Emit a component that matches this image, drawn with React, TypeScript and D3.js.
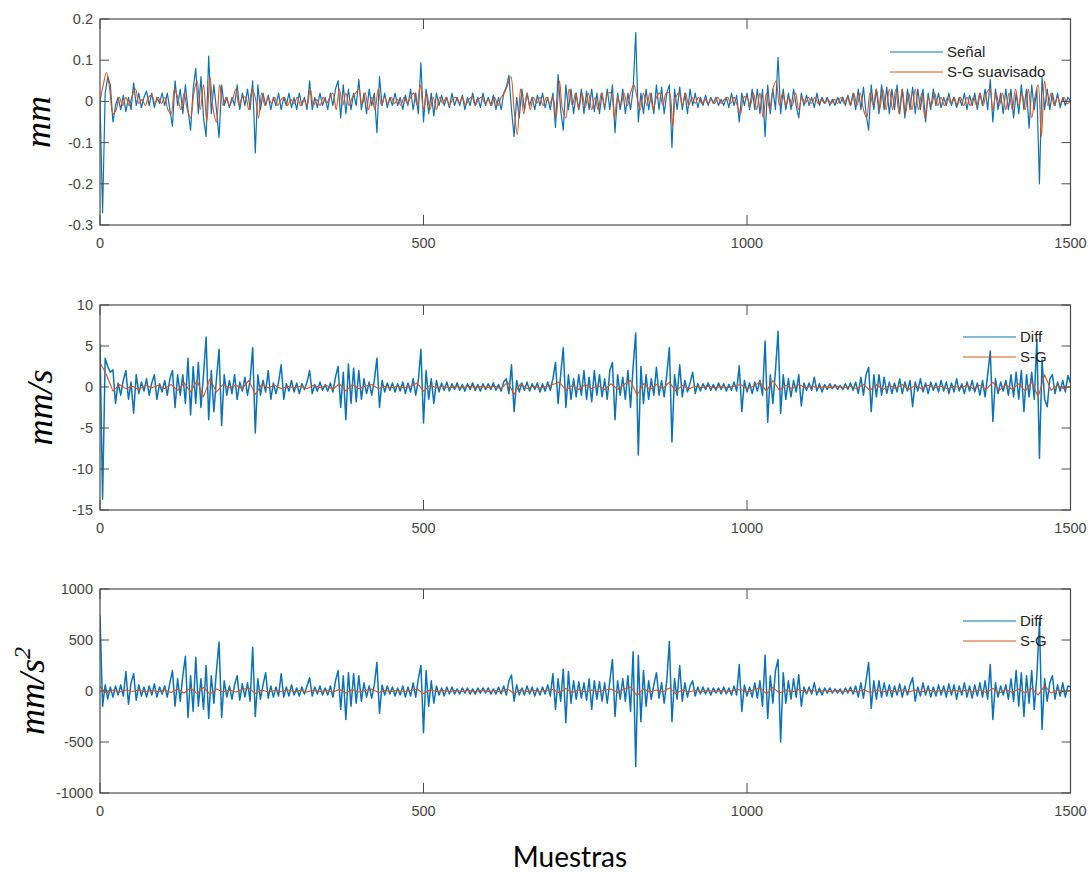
import React from 'react';
import * as d3 from 'd3';

// Sample axis
const sampleDomain = [0, 1500];
const xTicks = [0, 500, 1000, 1500];

// Panel 1: displacement (mm), raw signal every 4 samples, smoothed every 5 samples
const signalStep = 4;
const signalMm = [
  0, -.27, .02, .06, .04, -.05, -.01, .01, -.02, .015, -.025, .01, -.02, .045, -.01, .02, -.015, .01, .025, -.01, .02, -.015, .01, -.005, .02,
  -.01, .02, -.02, -.06, .05, -.01, .03, -.03, .04, -.02, -.07, .03, .08, -.03, .06, -.04, -.085, .11, -.03, .04, -.02, -.088, .04, -.01, .01,
  -.015, .01, -.01, .04, -.02, .02, -.01, .03, -.02, .05, -.125, .04, -.02, .02, -.01, .015, -.02, .01, -.01, .02, -.02, .01, -.01, .02, -.015,
  .01, -.02, .02, -.01, .01, -.02, .05, -.02, .01, -.015, .02, -.01, .01, -.02, .02, -.01, .03, .05, -.04, .04, -.03, .03, -.02, .02, -.01,
  .053, -.02, .02, -.03, .03, -.01, .02, -.076, .06, -.01, .02, -.015, .01, -.01, .02, -.01, .01, -.02, .015, -.01, .03, -.02, .02, -.03, .094,
  -.05, .03, -.03, .02, -.035, .02, -.01, .015, -.01, .01, -.015, .02, -.01, .01, -.01, .015, -.02, .01, -.01, .02, -.01, .01, -.015, .02, -.01,
  .01, -.01, .015, -.02, .01, -.02, .02, .035, .063, -.02, -.085, .01, -.04, .03, -.02, .02, -.01, .01, -.02, .015, -.01, .02, -.015, .01, -.02,
  .02, -.063, .065, -.02, -.07, .04, -.02, .03, -.03, .02, -.02, .03, -.03, .025, -.02, .03, -.025, .02, -.03, .02, -.02, .03, -.02, .04, -.076,
  .02, -.02, .03, -.03, .02, -.02, .03, .167, -.05, .02, -.03, .03, -.02, .02, -.03, .04, -.02, .035, -.03, .02, .04, -.112, .03, -.02, .035,
  -.02, .02, -.03, .03, -.01, .02, -.015, .01, -.01, .015, -.01, .01, -.005, .01, -.01, .005, -.01, .01, -.015, .02, -.01, .015, -.05, .02, -.01,
  .02, -.02, .03, -.02, .03, -.03, .03, -.085, .04, -.03, .03, -.02, .107, -.03, .03, -.02, .02, -.02, .03, -.01, -.04, .02, -.01, .015, -.01,
  .01, -.015, .02, -.01, .01, -.005, .01, -.01, .005, -.01, .01, -.005, .01, -.01, .015, -.01, .02, -.02, .03, -.02, .035, -.03, -.07, .04, -.02,
  .03, -.03, .04, -.02, .035, -.03, .03, -.02, .04, -.03, .03, -.04, .03, -.02, .035, -.03, .03, -.02, .03, -.05, .02, -.02, .03, -.01, .02,
  -.015, .01, -.01, .02, -.01, .01, -.015, .01, -.01, .02, -.02, .015, -.01, .02, -.02, .02, -.01, .03, -.02, .053, -.05, .03, -.02, .02, -.03,
  .03, -.02, .03, -.04, .02, -.03, .04, -.02, .03, -.065, .04, -.02, .03, -.2, .058, -.02, .03, -.02, .02, -.01, .02, -.015, .01, -.01, .01,
  0,
];
const smoothStep = 5;
const smoothMm = [
  0, .04, .07, .03, -.03, -.02, .01, -.01, .01, -.01, .015, .03, -.005, .005, -.01, .01, .015, -.005, .01, -.005,
  .01, -.02, -.03, .03, .01, -.02, .02, -.02, -.04, .02, .05, -.02, .04, -.05, .06, -.02, -.05, .04, -.01, .01,
  -.01, .005, .03, -.01, .01, .01, -.02, .03, .01, -.04, .02, -.01, .01, -.005, .01, -.01, .005, .01, -.01, .005,
  -.005, .01, -.01, .005, -.01, .03, -.01, .005, -.01, .01, -.005, .01, .02, -.02, .03, -.01, .02, -.01, .01, .02,
  .03, -.01, .02, -.02, .01, -.02, .03, -.01, .01, -.005, .01, -.005, .005, -.01, .01, -.005, .01, .02, -.01, .04,
  -.02, .02, -.02, .01, -.02, .01, -.005, .01, -.01, .005, .01, -.005, .01, -.01, .005, .01, -.01, .005, .01, -.005,
  .005, -.01, .01, -.01, .01, .02, .04, .06, -.02, -.08, .03, -.03, .02, -.02, .01, -.005, .01, -.01, .01, -.005,
  .01, -.04, .05, -.02, -.04, .03, -.01, .02, -.02, .02, -.015, .02, -.02, .01, -.02, .02, -.01, .02, .02, -.04,
  .01, -.01, .02, -.01, .02, .04, .01, -.02, .02, -.01, .02, -.02, .01, .02, -.01, .02, .02, -.06, .01, .02,
  -.01, .02, -.01, .01, -.005, .01, -.005, .005, -.005, .005, -.005, .01, -.005, .005, .01, -.005, .01, -.01, -.03, .01,
  .01, -.01, .02, -.02, .02, -.04, .02, -.02, .03, .05, -.01, .02, -.01, .01, -.01, .02, -.02, .01, -.005, .01,
  -.005, .01, -.005, .005, -.005, .005, -.005, .005, -.005, .01, -.005, .01, -.01, .02, -.01, .02, -.02, -.04, .02, -.01,
  .03, -.02, .03, -.02, .03, -.02, .03, -.03, .03, -.03, .02, -.02, .03, -.02, .02, -.04, .01, -.01, .02, -.01,
  .01, -.01, .01, -.005, .01, -.01, .01, -.01, .01, -.01, .01, -.01, .02, -.01, .02, .03, -.02, .02, -.01, .02,
  -.02, .02, -.02, .03, -.01, .02, -.02, .03, -.04, .01, .04, -.085, .05, -.01, .02, -.01, .01, -.005, .01, -.005,
  0,
];

// Panel 2: velocity (mm/s), finite difference every 4 samples, S-G derivative every 10 samples
const velocityDiff = [
  5.2, -13.7, 3.5, 2.5, 1.8, 2.1, -2, .5, -1, .8, 2, -1.5, .6, -3.2, 1.5, -.8, .6, -.5, 1, -1, .5, 1.5, -1.5, .4, -.6,
  .8, -1, 1, 2, -2.5, 1.5, -1, 1.5, -2, 3.5, -3.4, 2.5, -2, 3, -2.5, 1.5, 6.1, -4, 2, -3, 1, 4.6, -4.7, 1.5, -1,
  .8, -.8, 1.5, -1.5, .6, -.5, 1.2, -1, .8, 4.8, -5.6, 1.5, -1, .8, -.6, 2, -1.5, .5, -.8, .6, 2.7, -1.5, .4, -.5, .8,
  -.6, .5, -.8, .4, -.3, .6, 2, -.8, .3, -.5, .6, -.4, .3, -.5, .5, -.6, 1.2, 2.5, -2.5, 1.8, -4, 2.8, -2, 2.3, -1.8,
  2, -1.5, 1, -.8, .6, -1, .8, 3.5, -2.5, .8, -.6, .5, -.4, .5, -.6, .4, -.5, .6, -.8, .5, -.6, 1, -1, .8, 4.6,
  -4.4, 2, -1.5, 1, -2, .8, -.6, .5, -.4, .6, -.5, .4, -.3, .5, -.4, .3, -.5, .4, -.3, .5, -.4, .3, -.5, .4, -.3,
  .4, -.3, .5, -.4, .3, -.5, .6, 1, -.8, 2.7, -3, .8, -.6, .5, -.4, .6, -.5, .4, -.3, .5, -.6, .4, -.5, .6, -.4,
  1, 3, -2, 1.5, 4.8, -2.5, 1.5, -1.5, 1, -1.2, 1.5, -1, 2, -1.5, 1.2, -1.8, 2, -1, 1.5, -1.2, 1, -1.5, 2, 3, -4,
  1.5, -1, 1.2, -1.5, 2, -2.5, 2.5, 6.6, -8.3, 2.5, -2, 1.5, -1.5, 1, -1, 2.4, -1, .8, -1.2, 1.5, 4.8, -6.7, 1.5, -1, 2.7,
  -1.2, .8, -.6, .5, 1.8, -.8, .4, -.5, .4, -.3, .5, -.4, .3, -.4, .5, -.3, .4, -.5, .3, -.4, .6, -.5, 2.6, -3, .8,
  -.6, .5, -.8, .6, -.5, .8, -1, 5.6, -4.3, 1.5, -2, 2, 6.8, -3.2, 1.5, -1.5, 1, -1.2, .8, -.6, 1.5, -2.3, .5, -.4, .5,
  -.4, 1.2, -.5, .4, -.6, .3, -.3, .4, -.2, .3, -.3, .2, -.3, .4, -.3, .5, -.4, .6, -.8, 1.2, -1, 1.5, 2.4, -3, 1.5,
  -1.2, 1.5, -1, 1.2, -.8, .6, -.8, .5, -.6, 1, -.8, .6, -.5, .8, -2.4, .6, -.5, 1, -.6, .5, -.8, .6, -.4, .5, -.6,
  .8, -.5, .6, -.8, .5, -.6, 1, -.5, .4, -.8, .6, -.5, .8, -.6, .5, -1, .8, -1.2, 1.5, 4.4, -4.2, 1, -.8, .6, -.5,
  .8, -1, 1.5, -1.2, 1.8, -1.5, 2, -3, 1.5, -1.2, 1.8, -1.5, 5.8, -8.7, 3.3, -1.5, -2.4, 1, 1.5, -.8, .6, -.5, .8, -.6, 1.4,
  .5,
];
const sgStep = 10;
const velocitySG = [
  3, 1.5, -.5, .3, -.2, .1, -.3, .2, -.1, .2,
  -.2, .3, -.4, .5, -.6, .8, -1.2, 1, -.6, .3,
  -.1, .2, -.2, .8, -.9, .3, -.1, .2, -.2, .1,
  -.1, .1, -.2, .2, -.1, .2, -.3, .4, -.5, .3,
  -.2, .1, .3, -.2, .1, -.1, .1, -.1, .1, .5,
  -.5, .2, -.1, .1, -.1, .05, -.1, .1, -.05, .05,
  -.05, .1, -.2, .6, -.9, .4, -.2, .1, -.1, .05,
  .3, .6, -.4, .2, -.3, .3, -.2, .2, -.3, .4,
  -.3, .3, .8, -1, .4, -.3, .3, -.2, .6, -.5,
  .2, -.2, .1, -.1, .1, -.1, .05, -.1, .1, .3,
  -.2, .1, .6, -.5, .8, -.4, .2, -.2, .3, -.1,
  .1, -.1, .05, -.05, .1, -.1, .1, -.2, .3, -.4,
  .3, -.3, .2, -.2, .3, -.3, .2, -.2, .2, -.1,
  .1, -.2, .1, -.1, .2, -.2, .2, -.3, .6, -.4,
  .3, -.3, .4, -.5, .6, -1.2, 1.5, -.4, .2, -.2,
  .1,
];

// Panel 3: acceleration (mm/s^2)
const accelDiff = [
  740, -150, 60, -80, 40, -60, 50, -40, 60, -50, 190, -130, 80, 170, -90, 60, -50, 40, -60, 50, -40, 70, -60, 40, -30,
  50, -60, 80, 200, -150, 120, -100, 150, 340, -260, 150, -200, 330, -150, 120, -180, 250, -270, 150, -120, 200, 480, -260, 100, -60,
  50, -80, 60, 150, -90, 70, -60, 80, -100, 430, -250, 120, -80, 60, 180, -70, 50, -60, 40, -50, 170, -60, 40, -50, 60,
  -40, 30, -50, 40, -30, 50, 130, -50, 40, -30, 50, -40, 30, -40, 50, -60, 100, 200, -180, 150, -280, 180, -150, 170, -120,
  150, -100, 80, -60, 50, -70, 60, 280, -220, 60, -40, 50, -30, 40, -50, 30, -40, 50, -60, 40, -50, 80, -60, 120, 250,
  -410, 200, -150, 100, -120, 50, -40, 30, -50, 40, -30, 40, -30, 20, -30, 30, -20, 30, -30, 20, -30, 30, -20, 30, -20,
  30, -30, 20, -30, 40, -30, 50, -40, 100, 157, -100, 60, -40, 30, -40, 50, -30, 40, -50, 30, -40, 40, -30, 60, -50,
  170, -180, 120, -100, 212, -310, 190, -120, 100, -80, 90, -70, 80, -90, 120, -180, 100, -80, 90, -100, 80, -120, 100, 310, -250,
  100, -80, 120, -100, 150, -200, 385, -740, 350, -300, 200, -150, 100, -80, 60, 180, -70, 80, -120, 100, 485, -300, 120, -80, 250,
  -100, 80, -60, 50, 100, -50, 40, -30, 40, -30, 30, -40, 30, -20, 30, -30, 40, -30, 30, -40, 50, -40, 260, -200, 60,
  -50, 40, -60, 80, -70, 100, -150, 350, -270, 150, -120, 200, 310, -500, 180, -120, 100, -80, 120, -60, 160, -150, 40, -30, 40,
  -30, 80, -40, 30, -40, 30, -20, 30, -20, 20, -20, 20, -30, 30, -20, 40, -30, 50, -60, 80, -70, 100, 280, -170, 100,
  -80, 100, -60, 80, -50, 60, -60, 50, -40, 70, -60, 50, -40, 60, 130, -100, 40, -50, 80, -40, 50, -60, 40, -50, 60,
  -40, 50, -60, 70, -40, 60, -80, 50, -40, 80, -60, 50, -70, 60, -50, 80, -60, 100, -80, 260, -280, 80, -60, 50, -40,
  60, -80, 120, -100, 200, -150, 180, -250, 150, -120, 200, -180, 150, 680, -378, 120, -100, 80, 150, -80, 60, -50, 80, -60, 50,
  40,
];
const accelSG = [
  40, -20, 10, -10, 10, -5, 10, -10, 5, -5,
  10, -15, 20, -20, 30, -25, 35, -30, 20, -10,
  10, -10, 15, 30, -25, 10, -10, 5, -5, 10,
  -5, 5, -10, 10, -5, 5, -10, 15, -20, 15,
  -10, 5, 20, -15, 5, -5, 5, -5, 5, 20,
  -25, 10, -5, 5, -5, 5, -5, 5, -5, 5,
  -5, 5, -10, 20, -25, 10, -5, 5, -5, 5,
  15, -20, 25, -15, 10, -10, 10, -10, 10, 20,
  -15, 20, 40, -45, 20, -10, 10, -10, 30, -25,
  10, -10, 5, -5, 5, -5, 5, -5, 5, 15,
  -10, 10, 30, -25, 35, -20, 10, -10, 15, -5,
  5, -5, 5, -5, 5, -5, 5, -10, 15, -15,
  10, -10, 10, -10, 10, -10, 10, -10, 10, -5,
  5, -5, 5, -5, 10, -10, 10, -15, 25, -20,
  15, -15, 20, -20, 25, -40, 50, -20, 10, -10,
  5,
];

const mmTicks = [-0.3, -0.2, -0.1, 0, 0.1, 0.2];
const velTicks = [-15, -10, -5, 0, 5, 10];
const accTicks = [-1000, -500, 0, 500, 1000];

const BLUE = '#0b72b8';
const ORANGE = '#D95319';
const AXIS = '#4a4a4a';
const LABEL = '#454545';
const SANS = '"Liberation Sans", Arial, sans-serif';

const X_LEFT = 100;
const X_RIGHT = 1070.5;
const x = d3.scaleLinear().domain(sampleDomain).range([X_LEFT, X_RIGHT]);

type PanelProps = {
  id: string;
  top: number;
  bottom: number;
  domain: [number, number];
  ticks: number[];
  raw: number[];
  rawStep: number;
  rawWidth: number;
  smooth: number[];
  smoothStep: number;
  curveSmooth: boolean;
  legend: [string, string];
  legendX: number;
  legendY: number;
  title: React.ReactNode;
  titleX: number;
};

function Panel(p: PanelProps) {
  const y = d3.scaleLinear().domain(p.domain).range([p.bottom, p.top]);
  const rawLine = d3
    .line<number>()
    .x((_, i) => x(i * p.rawStep))
    .y((d) => y(d));
  const smoothLine = d3
    .line<number>()
    .x((_, i) => x(i * p.smoothStep))
    .y((d) => y(d))
    .curve(p.curveSmooth ? d3.curveCatmullRom.alpha(0.5) : d3.curveLinear);
  const yTick = 9;
  const xTick = 10;
  const cy = (p.top + p.bottom) / 2;
  return (
    <g>
      <defs>
        <clipPath id={p.id}>
          <rect x={X_LEFT} y={p.top} width={X_RIGHT - X_LEFT} height={p.bottom - p.top} />
        </clipPath>
      </defs>
      <g clipPath={`url(#${p.id})`}>
        <path d={rawLine(p.raw) || ''} fill="none" stroke={BLUE} strokeWidth={p.rawWidth} strokeLinejoin="round" />
        <path d={smoothLine(p.smooth) || ''} fill="none" stroke={ORANGE} strokeWidth={1.1} strokeLinejoin="round" />
      </g>
      {/* box */}
      <rect x={X_LEFT} y={p.top} width={X_RIGHT - X_LEFT} height={p.bottom - p.top} fill="none" stroke={AXIS} strokeWidth={1.2} />
      {/* y ticks */}
      {p.ticks.map((t) => (
        <g key={`y${t}`}>
          <line x1={X_LEFT} x2={X_LEFT + yTick} y1={y(t)} y2={y(t)} stroke={AXIS} strokeWidth={1} />
          <line x1={X_RIGHT} x2={X_RIGHT - yTick} y1={y(t)} y2={y(t)} stroke={AXIS} strokeWidth={1} />
          <text x={X_LEFT - 7} y={y(t)} dy="0.35em" textAnchor="end" fontFamily={SANS} fontSize={14.5} fill={LABEL}>
            {String(t)}
          </text>
        </g>
      ))}
      {/* x ticks */}
      {xTicks.map((t) => (
        <g key={`x${t}`}>
          <line x1={x(t)} x2={x(t)} y1={p.bottom} y2={p.bottom - xTick} stroke={AXIS} strokeWidth={1} />
          <line x1={x(t)} x2={x(t)} y1={p.top} y2={p.top + xTick} stroke={AXIS} strokeWidth={1} />
          <text x={x(t)} y={p.bottom + 23} textAnchor="middle" fontFamily={SANS} fontSize={14.5} fill={LABEL}>
            {String(t)}
          </text>
        </g>
      ))}
      {/* legend */}
      <g fontFamily={SANS} fontSize={15} fill="#222">
        <line x1={p.legendX} x2={p.legendX + 53} y1={p.legendY} y2={p.legendY} stroke={BLUE} strokeWidth={1} />
        <text x={p.legendX + 57} y={p.legendY} dy="0.35em">{p.legend[0]}</text>
        <line x1={p.legendX} x2={p.legendX + 53} y1={p.legendY + 20} y2={p.legendY + 20} stroke={ORANGE} strokeWidth={1} />
        <text x={p.legendX + 57} y={p.legendY + 20} dy="0.35em">{p.legend[1]}</text>
      </g>
      <text
        transform={`translate(${p.titleX},${cy}) rotate(-90)`}
        textAnchor="middle"
        fontFamily='"Liberation Serif", "DejaVu Serif", serif'
        fontStyle="italic"
        fontSize={36}
        fill="#000"
      >
        {p.title}
      </text>
    </g>
  );
}

export default function App() {
  return (
    <svg
      width={1091}
      height={872}
      viewBox="0 0 1091 872"
      style={{ position: 'absolute', left: 0, top: 0, background: '#fff' }}
    >
      <rect width={1091} height={872} fill="#fff" />
      <Panel
        id="clip-mm"
        top={19}
        bottom={225}
        domain={[-0.3, 0.2]}
        ticks={mmTicks}
        raw={signalMm}
        rawStep={signalStep}
        rawWidth={1.2}
        smooth={smoothMm}
        smoothStep={smoothStep}
        curveSmooth={true}
        legend={['Señal', 'S-G suavisado']}
        legendX={890}
        legendY={52}
        title="mm"
        titleX={50}
      />
      <Panel
        id="clip-vel"
        top={305}
        bottom={510}
        domain={[-15, 10]}
        ticks={velTicks}
        raw={velocityDiff}
        rawStep={signalStep}
        rawWidth={1.5}
        smooth={velocitySG}
        smoothStep={sgStep}
        curveSmooth={false}
        legend={['Diff', 'S-G']}
        legendX={963}
        legendY={337}
        title="mm/s"
        titleX={52}
      />
      <Panel
        id="clip-acc"
        top={589}
        bottom={793}
        domain={[-1000, 1000]}
        ticks={accTicks}
        raw={accelDiff}
        rawStep={signalStep}
        rawWidth={1.5}
        smooth={accelSG}
        smoothStep={sgStep}
        curveSmooth={false}
        legend={['Diff', 'S-G']}
        legendX={963}
        legendY={621}
        title={
          <>
            mm/s
            <tspan fontSize={24} dy={-14}>2</tspan>
          </>
        }
        titleX={44}
      />
      <text x={570} y={867} textAnchor="middle" fontFamily="Lato, 'Open Sans', sans-serif" fontSize={28} fill="#000">
        Muestras
      </text>
    </svg>
  );
}
